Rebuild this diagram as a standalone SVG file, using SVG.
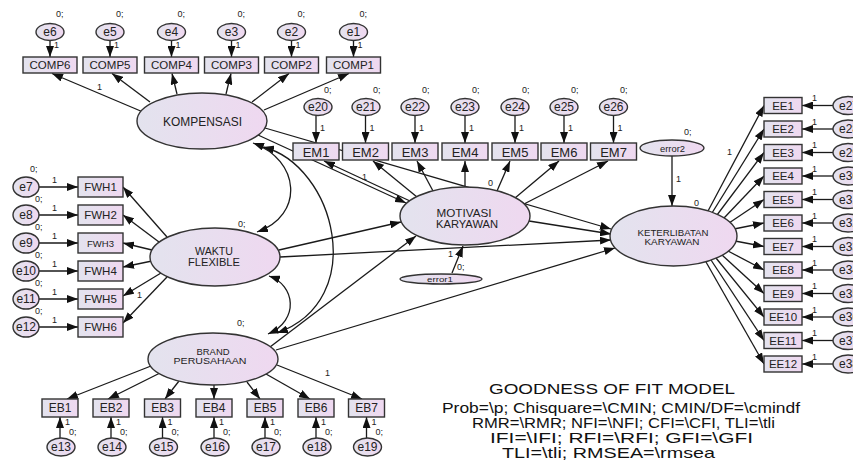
<svg xmlns="http://www.w3.org/2000/svg" width="853" height="466" viewBox="0 0 853 466">
<defs>
<linearGradient id="g" x1="0" x2="1" y1="0" y2="0"><stop offset="0" stop-color="#e3e3ee"/><stop offset="1" stop-color="#efd8f0"/></linearGradient>
<marker id="ah" viewBox="0 0 11 8" refX="11" refY="4" markerWidth="11" markerHeight="8" markerUnits="userSpaceOnUse" orient="auto-start-reverse"><path d="M0,0 L11,4 L0,8 z" fill="#111"/></marker>
<style>
.n{fill:url(#g);stroke:#333;stroke-width:1.4}
.t{font-family:"Liberation Sans",Arial,sans-serif;fill:#222;text-anchor:middle}
.l{font-family:"Liberation Sans",Arial,sans-serif;fill:#222;font-size:9px}
.c{fill:none;stroke:#1a1a1a;stroke-width:1.3;marker-end:url(#ah)}
.d{fill:none;stroke:#1a1a1a;stroke-width:1.3;marker-end:url(#ah);marker-start:url(#ah)}
.bx{font-size:11.5px}
.em{font-size:13px}
.eb{font-size:12px}
.ee{font-size:11.5px}
.e{font-size:12px}
</style>
</defs>
<rect width="853" height="466" fill="#fff"/>

<g id="connectors">
<!-- e -> COMP -->
<path class="c" d="M50,40.5 L50,57"/><path class="c" d="M110,40.5 L110,57"/><path class="c" d="M171.5,40.5 L171.5,57"/><path class="c" d="M231.5,40.5 L231.5,57"/><path class="c" d="M291.5,40.5 L291.5,57"/><path class="c" d="M353.5,40.5 L353.5,57"/>
<!-- KOMPENSASI -> COMP -->
<path class="c" d="M143,112 L52,73.5"/><path class="c" d="M150,102 L112,73.5"/><path class="c" d="M177,94 L172,73.5"/><path class="c" d="M226,94 L231,73.5"/><path class="c" d="M252,102 L289,73.5"/><path class="c" d="M264,110 L349,73.5"/>
<!-- e -> FWH -->
<path class="c" d="M39,187 L78,187"/><path class="c" d="M39,215 L78,215"/><path class="c" d="M39,243 L78,243"/><path class="c" d="M39,271 L78,271"/><path class="c" d="M39,299 L78,299"/><path class="c" d="M39,327 L78,327"/>
<!-- WAKTU -> FWH -->
<path class="c" d="M167,237 L123,187"/><path class="c" d="M159,242 L123,215"/><path class="c" d="M152,250 L123,243"/><path class="c" d="M152,261 L123,267"/><path class="c" d="M161,273 L123,296"/><path class="c" d="M167,277 L123,323"/>
<!-- BRAND -> EB -->
<path class="c" d="M151,366 L67,399"/><path class="c" d="M160,373 L108,399"/><path class="c" d="M179,381 L165,399"/><path class="c" d="M214,385 L214,399"/><path class="c" d="M247,382 L260,399"/><path class="c" d="M266,374 L310,399"/><path class="c" d="M277,365 L362,399"/>
<!-- e -> EB -->
<path class="c" d="M60,438 L60,417"/><path class="c" d="M111,438 L111,417"/><path class="c" d="M162.5,438 L162.5,417"/><path class="c" d="M214,438 L214,417"/><path class="c" d="M265,438 L265,417"/><path class="c" d="M316,438 L316,417"/><path class="c" d="M366.5,438 L366.5,417"/>
<!-- e -> EM -->
<path class="c" d="M316,115.5 L316,143"/><path class="c" d="M365.5,115.5 L365.5,143"/><path class="c" d="M415,115.5 L415,143"/><path class="c" d="M465,115.5 L465,143"/><path class="c" d="M515,115.5 L515,143"/><path class="c" d="M564,115.5 L564,143"/><path class="c" d="M613.5,115.5 L613.5,143"/>
<!-- MOTIVASI -> EM -->
<path class="c" d="M410,201 L324,161"/><path class="c" d="M417,197 L373,161"/><path class="c" d="M433,191 L417,161"/><path class="c" d="M465,187 L465,161"/><path class="c" d="M497,191 L510,161"/><path class="c" d="M515,198 L559,161"/><path class="c" d="M524,204 L608,161"/>
<!-- structural paths -->
<path class="c" d="M258,135 L406,203"/>
<path class="c" d="M265,128 L611,229"/>
<path class="c" d="M529,221 L611,234"/>
<path class="c" d="M279,250 L401,222"/>
<path class="c" d="M280,257 L611,240"/>
<path class="c" d="M270,347 L416,236"/>
<path class="c" d="M276,350 L615,248"/>
<path class="c" d="M452,273 L463,246"/>
<path class="c" d="M672,156 L672,206"/>
<!-- covariances -->
<path class="d" d="M253,143 C300,160 305,215 257,232"/>
<path class="d" d="M263,147 C335,165 370,300 277,333"/>
<path class="d" d="M269,276 C295,285 300,320 268,334"/>
<!-- KET -> EE -->
<path class="c" d="M708,211 L764,105.5"/><path class="c" d="M712,213 L764,129"/><path class="c" d="M717,215 L764,152.5"/><path class="c" d="M724,218 L764,176"/><path class="c" d="M729,223 L764,199.5"/><path class="c" d="M734,229 L764,223"/><path class="c" d="M735,241 L764,246.5"/><path class="c" d="M728,251 L764,270"/><path class="c" d="M722,255 L764,293.5"/><path class="c" d="M716,258 L764,317"/><path class="c" d="M711,260 L764,340.5"/><path class="c" d="M706,262 L764,364"/>
<!-- e -> EE -->
<path class="c" d="M833,105.5 L802,105.5"/><path class="c" d="M833,129 L802,129"/><path class="c" d="M833,152.5 L802,152.5"/><path class="c" d="M833,176 L802,176"/><path class="c" d="M833,199.5 L802,199.5"/><path class="c" d="M833,223 L802,223"/><path class="c" d="M833,246.5 L802,246.5"/><path class="c" d="M833,270 L802,270"/><path class="c" d="M833,293.5 L802,293.5"/><path class="c" d="M833,317 L802,317"/><path class="c" d="M833,340.5 L802,340.5"/><path class="c" d="M833,364 L802,364"/>
</g>

<g id="path-labels">
<text class="l" x="54" y="48">1</text><text class="l" x="114" y="48">1</text><text class="l" x="175.5" y="48">1</text><text class="l" x="235.5" y="48">1</text><text class="l" x="295.5" y="48">1</text><text class="l" x="357.5" y="48">1</text>
<text class="l" x="97" y="90">1</text>
<text class="l" x="52" y="183">1</text><text class="l" x="52" y="211">1</text><text class="l" x="52" y="239">1</text><text class="l" x="52" y="267">1</text><text class="l" x="52" y="295">1</text><text class="l" x="52" y="323">1</text>
<text class="l" x="137" y="298">1</text>
<text class="l" x="65" y="425">1</text><text class="l" x="116" y="425">1</text><text class="l" x="167.5" y="425">1</text><text class="l" x="219" y="425">1</text><text class="l" x="270" y="425">1</text><text class="l" x="321" y="425">1</text><text class="l" x="371.5" y="425">1</text>
<text class="l" x="325" y="376">1</text>
<text class="l" x="320" y="131">1</text><text class="l" x="369.5" y="131">1</text><text class="l" x="419" y="131">1</text><text class="l" x="469" y="131">1</text><text class="l" x="519" y="131">1</text><text class="l" x="568" y="131">1</text><text class="l" x="617.5" y="131">1</text>
<text class="l" x="362" y="180">1</text>
<text class="l" x="488" y="186">0</text>
<text class="l" x="448" y="257">1</text>
<text class="l" x="676" y="182">1</text>
<text class="l" x="727" y="155">1</text>
<text class="l" x="812" y="101">1</text><text class="l" x="812" y="124.5">1</text><text class="l" x="812" y="148">1</text><text class="l" x="812" y="171.5">1</text><text class="l" x="812" y="195">1</text><text class="l" x="812" y="218.5">1</text><text class="l" x="812" y="242">1</text><text class="l" x="812" y="265.5">1</text><text class="l" x="812" y="289">1</text><text class="l" x="812" y="312.5">1</text><text class="l" x="812" y="336">1</text><text class="l" x="812" y="359.5">1</text>
</g>

<g id="komp-errors">
<g id="e6"><ellipse class="n" cx="50" cy="32" rx="14" ry="8.5"/><text class="t e" x="50" y="36">e6</text><text class="l" x="56" y="17">0;</text></g>
<g id="e5"><ellipse class="n" cx="110" cy="32" rx="14" ry="8.5"/><text class="t e" x="110" y="36">e5</text><text class="l" x="116" y="17">0;</text></g>
<g id="e4"><ellipse class="n" cx="171.5" cy="32" rx="14" ry="8.5"/><text class="t e" x="171.5" y="36">e4</text><text class="l" x="177.5" y="17">0;</text></g>
<g id="e3"><ellipse class="n" cx="231.5" cy="32" rx="14" ry="8.5"/><text class="t e" x="231.5" y="36">e3</text><text class="l" x="237.5" y="17">0;</text></g>
<g id="e2"><ellipse class="n" cx="291.5" cy="32" rx="14" ry="8.5"/><text class="t e" x="291.5" y="36">e2</text><text class="l" x="297.5" y="17">0;</text></g>
<g id="e1"><ellipse class="n" cx="353.5" cy="32" rx="14" ry="8.5"/><text class="t e" x="353.5" y="36">e1</text><text class="l" x="359.5" y="17">0;</text></g>
</g>

<g id="comp-boxes">
<g id="COMP6"><rect class="n" x="23" y="57" width="54" height="16"/><text class="t bx" x="50" y="69">COMP6</text></g>
<g id="COMP5"><rect class="n" x="83" y="57" width="54" height="16"/><text class="t bx" x="110" y="69">COMP5</text></g>
<g id="COMP4"><rect class="n" x="144.5" y="57" width="54" height="16"/><text class="t bx" x="171.5" y="69">COMP4</text></g>
<g id="COMP3"><rect class="n" x="204.5" y="57" width="54" height="16"/><text class="t bx" x="231.5" y="69">COMP3</text></g>
<g id="COMP2"><rect class="n" x="264.5" y="57" width="54" height="16"/><text class="t bx" x="291.5" y="69">COMP2</text></g>
<g id="COMP1"><rect class="n" x="326.5" y="57" width="54" height="16"/><text class="t bx" x="353.5" y="69">COMP1</text></g>
</g>

<g id="fwh-errors">
<g id="e7"><ellipse class="n" cx="26" cy="187" rx="13" ry="10"/><text class="t e" x="26" y="191">e7</text><text class="l" x="30" y="172">0;</text></g>
<g id="e8"><ellipse class="n" cx="26" cy="215" rx="13" ry="10"/><text class="t e" x="26" y="219">e8</text><text class="l" x="35" y="202">0;</text></g>
<g id="e9"><ellipse class="n" cx="26" cy="243" rx="13" ry="10"/><text class="t e" x="26" y="247">e9</text><text class="l" x="35" y="230">0;</text></g>
<g id="e10"><ellipse class="n" cx="26" cy="271" rx="13" ry="10"/><text class="t e" x="26" y="275">e10</text><text class="l" x="35" y="258">0;</text></g>
<g id="e11"><ellipse class="n" cx="26" cy="299" rx="13" ry="10"/><text class="t e" x="26" y="303">e11</text><text class="l" x="35" y="286">0;</text></g>
<g id="e12"><ellipse class="n" cx="26" cy="327" rx="13" ry="10"/><text class="t e" x="26" y="331">e12</text><text class="l" x="35" y="314">0;</text></g>
</g>

<g id="fwh-boxes">
<g id="FWH1"><rect class="n" x="78" y="177" width="45" height="20"/><text class="t bx" x="100.5" y="191">FWH1</text></g>
<g id="FWH2"><rect class="n" x="78" y="205" width="45" height="20"/><text class="t bx" x="100.5" y="219">FWH2</text></g>
<g id="FWH3"><rect class="n" x="78" y="233" width="45" height="20"/><text class="t" style="font-size:9.5px" x="100.5" y="246.5">FWH3</text></g>
<g id="FWH4"><rect class="n" x="78" y="261" width="45" height="20"/><text class="t bx" x="100.5" y="275">FWH4</text></g>
<g id="FWH5"><rect class="n" x="78" y="289" width="45" height="20"/><text class="t bx" x="100.5" y="303">FWH5</text></g>
<g id="FWH6"><rect class="n" x="78" y="317" width="45" height="20"/><text class="t bx" x="100.5" y="331">FWH6</text></g>
</g>

<g id="eb-boxes">
<g id="EB1"><rect class="n" x="42" y="399" width="36" height="18"/><text class="t eb" x="60" y="412">EB1</text></g>
<g id="EB2"><rect class="n" x="93" y="399" width="36" height="18"/><text class="t eb" x="111" y="412">EB2</text></g>
<g id="EB3"><rect class="n" x="144.5" y="399" width="36" height="18"/><text class="t eb" x="162.5" y="412">EB3</text></g>
<g id="EB4"><rect class="n" x="196" y="399" width="36" height="18"/><text class="t eb" x="214" y="412">EB4</text></g>
<g id="EB5"><rect class="n" x="247" y="399" width="36" height="18"/><text class="t eb" x="265" y="412">EB5</text></g>
<g id="EB6"><rect class="n" x="298" y="399" width="36" height="18"/><text class="t eb" x="316" y="412">EB6</text></g>
<g id="EB7"><rect class="n" x="348.5" y="399" width="36" height="18"/><text class="t eb" x="366.5" y="412">EB7</text></g>
</g>

<g id="eb-errors">
<g id="e13"><ellipse class="n" cx="61" cy="447" rx="14" ry="9"/><text class="t e" x="61" y="451">e13</text><text class="l" x="69" y="435">0;</text></g>
<g id="e14"><ellipse class="n" cx="112" cy="447" rx="14" ry="9"/><text class="t e" x="112" y="451">e14</text><text class="l" x="120" y="435">0;</text></g>
<g id="e15"><ellipse class="n" cx="163.5" cy="447" rx="14" ry="9"/><text class="t e" x="163.5" y="451">e15</text><text class="l" x="171.5" y="435">0;</text></g>
<g id="e16"><ellipse class="n" cx="215" cy="447" rx="14" ry="9"/><text class="t e" x="215" y="451">e16</text><text class="l" x="223" y="435">0;</text></g>
<g id="e17"><ellipse class="n" cx="266" cy="447" rx="14" ry="9"/><text class="t e" x="266" y="451">e17</text><text class="l" x="274" y="435">0;</text></g>
<g id="e18"><ellipse class="n" cx="317" cy="447" rx="14" ry="9"/><text class="t e" x="317" y="451">e18</text><text class="l" x="325" y="435">0;</text></g>
<g id="e19"><ellipse class="n" cx="367.5" cy="447" rx="14" ry="9"/><text class="t e" x="367.5" y="451">e19</text><text class="l" x="375.5" y="435">0;</text></g>
</g>

<g id="em-errors">
<g id="e20"><ellipse class="n" cx="318" cy="107" rx="14" ry="8.5"/><text class="t e" x="318" y="111">e20</text><text class="l" x="324" y="93">0;</text></g>
<g id="e21"><ellipse class="n" cx="366" cy="107" rx="14" ry="8.5"/><text class="t e" x="366" y="111">e21</text><text class="l" x="373" y="93">0;</text></g>
<g id="e22"><ellipse class="n" cx="415" cy="107" rx="14" ry="8.5"/><text class="t e" x="415" y="111">e22</text><text class="l" x="422" y="93">0;</text></g>
<g id="e23"><ellipse class="n" cx="465" cy="107" rx="14" ry="8.5"/><text class="t e" x="465" y="111">e23</text><text class="l" x="472" y="93">0;</text></g>
<g id="e24"><ellipse class="n" cx="515" cy="107" rx="14" ry="8.5"/><text class="t e" x="515" y="111">e24</text><text class="l" x="522" y="93">0;</text></g>
<g id="e25"><ellipse class="n" cx="564" cy="107" rx="14" ry="8.5"/><text class="t e" x="564" y="111">e25</text><text class="l" x="571" y="93">0;</text></g>
<g id="e26"><ellipse class="n" cx="613.5" cy="107" rx="14" ry="8.5"/><text class="t e" x="613.5" y="111">e26</text><text class="l" x="620" y="93">0;</text></g>
</g>

<g id="em-boxes">
<g id="EM1"><rect class="n" x="293" y="143" width="46" height="17"/><text class="t em" x="316" y="156.5">EM1</text></g>
<g id="EM2"><rect class="n" x="342.5" y="143" width="46" height="17"/><text class="t em" x="365.5" y="156.5">EM2</text></g>
<g id="EM3"><rect class="n" x="392" y="143" width="46" height="17"/><text class="t em" x="415" y="156.5">EM3</text></g>
<g id="EM4"><rect class="n" x="442" y="143" width="46" height="17"/><text class="t em" x="465" y="156.5">EM4</text></g>
<g id="EM5"><rect class="n" x="492" y="143" width="46" height="17"/><text class="t em" x="515" y="156.5">EM5</text></g>
<g id="EM6"><rect class="n" x="541" y="143" width="46" height="17"/><text class="t em" x="564" y="156.5">EM6</text></g>
<g id="EM7"><rect class="n" x="590.5" y="143" width="46" height="17"/><text class="t em" x="613.5" y="156.5">EM7</text></g>
</g>

<g id="ee-boxes">
<g id="EE1"><rect class="n" x="764" y="97.5" width="38" height="16"/><text class="t ee" x="783" y="109.5">EE1</text></g>
<g id="EE2"><rect class="n" x="764" y="121" width="38" height="16"/><text class="t ee" x="783" y="133">EE2</text></g>
<g id="EE3"><rect class="n" x="764" y="144.5" width="38" height="16"/><text class="t ee" x="783" y="156.5">EE3</text></g>
<g id="EE4"><rect class="n" x="764" y="168" width="38" height="16"/><text class="t ee" x="783" y="180">EE4</text></g>
<g id="EE5"><rect class="n" x="764" y="191.5" width="38" height="16"/><text class="t ee" x="783" y="203.5">EE5</text></g>
<g id="EE6"><rect class="n" x="764" y="215" width="38" height="16"/><text class="t ee" x="783" y="227">EE6</text></g>
<g id="EE7"><rect class="n" x="764" y="238.5" width="38" height="16"/><text class="t ee" x="783" y="250.5">EE7</text></g>
<g id="EE8"><rect class="n" x="764" y="262" width="38" height="16"/><text class="t ee" x="783" y="274">EE8</text></g>
<g id="EE9"><rect class="n" x="764" y="285.5" width="38" height="16"/><text class="t ee" x="783" y="297.5">EE9</text></g>
<g id="EE10"><rect class="n" x="764" y="309" width="38" height="16"/><text class="t ee" x="783" y="321">EE10</text></g>
<g id="EE11"><rect class="n" x="764" y="332.5" width="38" height="16"/><text class="t ee" x="783" y="344.5">EE11</text></g>
<g id="EE12"><rect class="n" x="764" y="356" width="38" height="16"/><text class="t ee" x="783" y="368">EE12</text></g>
</g>

<g id="ee-errors">
<g id="e27"><ellipse class="n" cx="848" cy="105.5" rx="15" ry="9"/><text class="t e" x="849" y="109.5">e27</text></g>
<g id="e28"><ellipse class="n" cx="848" cy="129" rx="15" ry="9"/><text class="t e" x="849" y="133">e28</text></g>
<g id="e29"><ellipse class="n" cx="848" cy="152.5" rx="15" ry="9"/><text class="t e" x="849" y="156.5">e29</text></g>
<g id="e30"><ellipse class="n" cx="848" cy="176" rx="15" ry="9"/><text class="t e" x="849" y="180">e30</text></g>
<g id="e31"><ellipse class="n" cx="848" cy="199.5" rx="15" ry="9"/><text class="t e" x="849" y="203.5">e31</text></g>
<g id="e32"><ellipse class="n" cx="848" cy="223" rx="15" ry="9"/><text class="t e" x="849" y="227">e32</text></g>
<g id="e33"><ellipse class="n" cx="848" cy="246.5" rx="15" ry="9"/><text class="t e" x="849" y="250.5">e33</text></g>
<g id="e34"><ellipse class="n" cx="848" cy="270" rx="15" ry="9"/><text class="t e" x="849" y="274">e34</text></g>
<g id="e35"><ellipse class="n" cx="848" cy="293.5" rx="15" ry="9"/><text class="t e" x="849" y="297.5">e35</text></g>
<g id="e36"><ellipse class="n" cx="848" cy="317" rx="15" ry="9"/><text class="t e" x="849" y="321">e36</text></g>
<g id="e37"><ellipse class="n" cx="848" cy="340.5" rx="15" ry="9"/><text class="t e" x="849" y="344.5">e37</text></g>
<g id="e38"><ellipse class="n" cx="848" cy="364" rx="15" ry="9"/><text class="t e" x="849" y="368">e38</text></g>
</g>

<g id="KOMPENSASI"><ellipse class="n" cx="202" cy="121" rx="65" ry="28"/><text class="t" style="font-size:12px" x="202.5" y="126" textLength="79" lengthAdjust="spacingAndGlyphs">KOMPENSASI</text></g>
<g id="WAKTU_FLEXIBLE"><ellipse class="n" cx="215" cy="257" rx="65" ry="29"/><text class="t" style="font-size:10.5px" x="214" y="255" textLength="38" lengthAdjust="spacingAndGlyphs">WAKTU</text><text class="t" style="font-size:10.5px" x="214" y="265.5" textLength="52" lengthAdjust="spacingAndGlyphs">FLEXIBLE</text><text class="l" x="238" y="227">0;</text></g>
<g id="BRAND_PERUSAHAAN"><ellipse class="n" cx="213" cy="359" rx="65" ry="26"/><text class="t" style="font-size:8.5px" x="213" y="354.5" textLength="33" lengthAdjust="spacingAndGlyphs">BRAND</text><text class="t" style="font-size:8.5px" x="210" y="364" textLength="73" lengthAdjust="spacingAndGlyphs">PERUSAHAAN</text><text class="l" x="237" y="326">0;</text></g>
<g id="MOTIVASI_KARYAWAN"><ellipse class="n" cx="465" cy="216" rx="65" ry="29"/><text class="t" style="font-size:11.5px" x="464" y="217" textLength="55" lengthAdjust="spacingAndGlyphs">MOTIVASI</text><text class="t" style="font-size:11.5px" x="467" y="227.5" textLength="62" lengthAdjust="spacingAndGlyphs">KARYAWAN</text></g>
<g id="KETERLIBATAN_KARYAWAN"><ellipse class="n" cx="673.5" cy="236" rx="63.5" ry="30"/><text class="t" style="font-size:9px" x="673" y="236" textLength="71" lengthAdjust="spacingAndGlyphs">KETERLIBATAN</text><text class="t" style="font-size:9px" x="672" y="244.5" textLength="55" lengthAdjust="spacingAndGlyphs">KARYAWAN</text><text class="l" x="694" y="206">0</text></g>
<g id="error1"><ellipse class="n" cx="441" cy="279" rx="41" ry="5"/><text class="t" style="font-size:8px" x="440" y="282" textLength="26" lengthAdjust="spacingAndGlyphs">error1</text><text class="l" x="457" y="270">0;</text></g>
<g id="error2"><ellipse class="n" cx="672" cy="148" rx="32" ry="8"/><text class="t" style="font-size:9px" x="672.5" y="151.5" textLength="25" lengthAdjust="spacingAndGlyphs">error2</text><text class="l" x="684" y="135">0;</text></g>

<g id="fit-text" font-family="Liberation Sans, Arial, sans-serif" font-size="14.5" fill="#111">
<text x="489" y="394" textLength="246" lengthAdjust="spacingAndGlyphs">GOODNESS OF FIT MODEL</text>
<text x="442" y="413" textLength="358" lengthAdjust="spacingAndGlyphs">Prob=\p; Chisquare=\CMIN; CMIN/DF=\cmindf</text>
<text x="472" y="428" textLength="303" lengthAdjust="spacingAndGlyphs">RMR=\RMR; NFI=\NFI; CFI=\CFI, TLI=\tli</text>
<text x="490" y="443" textLength="263" lengthAdjust="spacingAndGlyphs">IFI=\IFI; RFI=\RFI; GFI=\GFI</text>
<text x="502" y="458" textLength="213" lengthAdjust="spacingAndGlyphs">TLI=\tli; RMSEA=\rmsea</text>
</g>
</svg>
